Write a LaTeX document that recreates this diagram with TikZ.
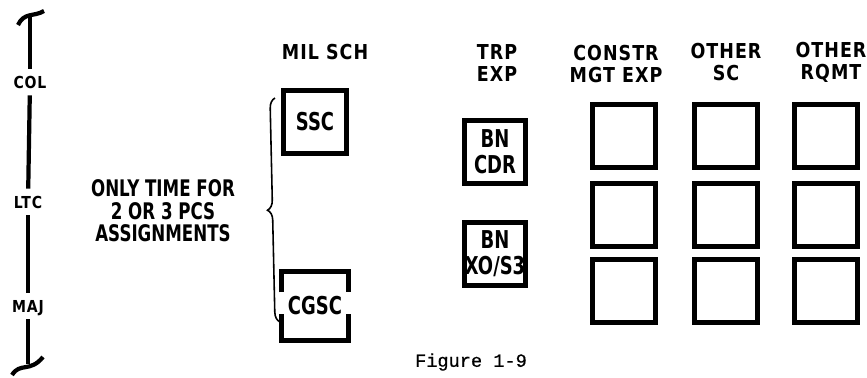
\documentclass[tikz,border=0pt]{standalone}
\usepackage{fontspec}
\setmainfont{DejaVu Sans}
\setmonofont{Liberation Mono}[FakeBold=0.6]
\newfontfamily\heavy{DejaVu Sans}[UprightFont={* Bold},
  FakeStretch=0.85, LetterSpace=5]
\newfontfamily\narrow{DejaVu Sans}[UprightFont={* Bold},
  FakeStretch=0.73]
\usetikzlibrary{decorations.pathreplacing}

\begin{document}
\begin{tikzpicture}[x=0.02cm, y=-0.02cm,
    rank/.style={font=\heavy\fontsize{9.4}{9.4}\selectfont,
      inner sep=4pt, text height=6.9pt, text depth=0pt},
    axis/.style={line width=2.4pt},
    head/.style={font=\heavy\fontsize{11.7}{12.5}\selectfont,
      align=center, inner sep=0pt},
    box/.style={draw, line width=2.9pt, minimum width=1.25cm,
      minimum height=1.27cm, align=center, inner sep=0pt,
      font=\narrow\fontsize{14}{14.7}\selectfont},
    bracket/.style={line width=2.9pt}]
  \useasboundingbox (0,0) rectangle (867,378);

  % rank scale on the left
  \node[rank] (col) at (30,82) {COL};
  \node[rank] (ltc) at (28,202) {LTC};
  \node[rank] (maj) at (28,306) {MAJ};
  \coordinate (top) at (30,16);
  \coordinate (bot) at (28,364);
  \draw[axis] (col) -- (top);
  \draw[axis] (col) -- (ltc);
  \draw[axis] (ltc) -- (maj);
  \draw[axis] (maj) -- (bot);
  \draw[axis] (18,25) .. controls (24,12) and (34,17) .. (44,11);
  \draw[axis] (12,375) .. controls (20,362) and (30,373) .. (43,357);

  % note and brace
  \node[font=\narrow\fontsize{13}{12.8}\selectfont, align=center]
    (note) at (163,211) {ONLY TIME FOR\\2 OR 3 PCS\\ASSIGNMENTS};
  \coordinate (brlow) at (280,322);
  \coordinate (brhigh) at (275,98);
  \draw[line width=0.9pt, decorate, decoration={brace, amplitude=0.2cm}]
    (brlow) -- (brhigh);

  % column heads
  \node[head] (milsch) at (325,52) {MIL SCH};
  \node[head] (trp) at (497,63) {TRP\\EXP};
  \node[head] (constr) at (616,64) {CONSTR\\MGT EXP};
  \node[head] (othsc) at (726,62) {OTHER\\SC};
  \node[head] (othrq) at (831,62) {OTHER\\RQMT};

  % military school
  \node[box] (ssc) at (315,122) {SSC};
  \node[box, draw=none] (cgsc) at (315,306) {CGSC};
  \draw[bracket] ([yshift=0.27cm]cgsc.west) -- (cgsc.north west)
    -- (cgsc.north east) -- ([yshift=0.27cm]cgsc.east);
  \draw[bracket] ([yshift=-0.17cm]cgsc.west) -- (cgsc.south west)
    -- (cgsc.south east) -- ([yshift=-0.17cm]cgsc.east);

  % troop experience
  \node[box, minimum width=1.22cm] (cdr) at (495,152) {BN\\CDR};
  \node[box, minimum width=1.22cm] (xo) at (495,254) {BN\\XO/S3};

  % empty boxes
  \foreach \cx/\c in {624/1,726/2,826/3}
    \foreach \cy/\r in {136/1,215/2,291/3}
      \node[box] (b-\c-\r) at (\cx,\cy) {};

  \node[font=\ttfamily\fontsize{10.6}{10.6}\selectfont] (fig) at (471,362)
    {Figure 1-9};
\end{tikzpicture}
\end{document}
